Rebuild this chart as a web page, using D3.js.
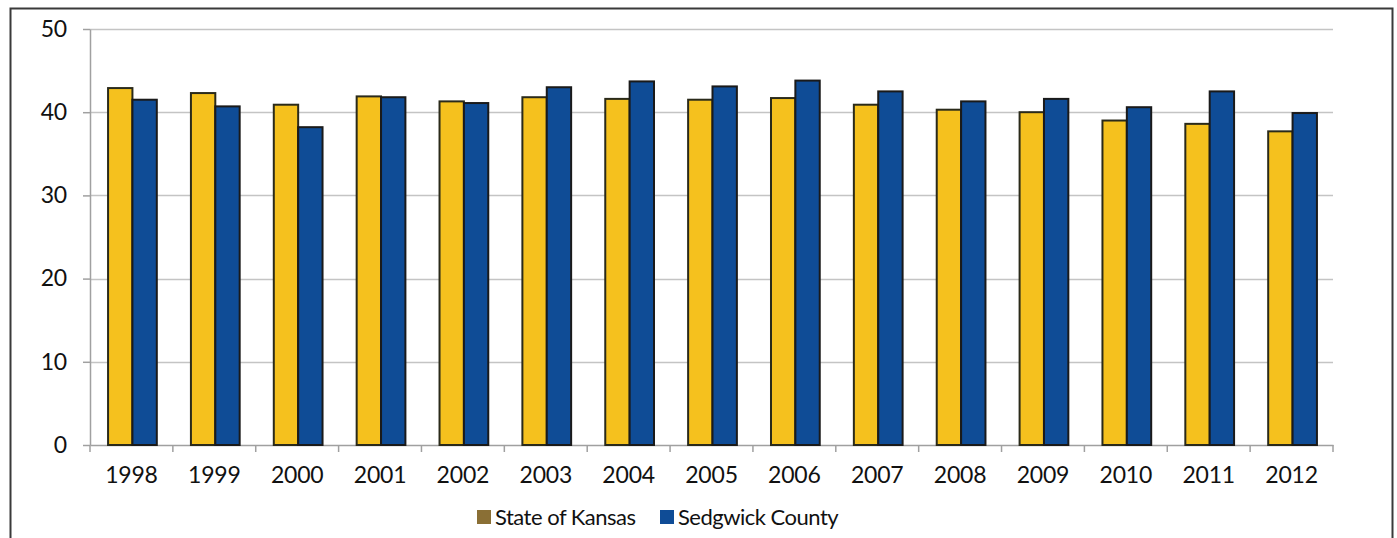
<!DOCTYPE html>
<html>
<head>
<meta charset="utf-8">
<script src="https://cdn.jsdelivr.net/npm/d3@7"></script>
<style>
  html, body { margin: 0; padding: 0; background: #fff; }
  svg { display: block; }
  text { font-family: Lato, "Open Sans", sans-serif; fill: #111; letter-spacing: -0.2px; }
  .legend text { letter-spacing: -0.5px; }
</style>
</head>
<body>
<svg id="chart" width="1397" height="538"></svg>
<script>
// Years along the x axis
const years = ["1998","1999","2000","2001","2002","2003","2004","2005","2006","2007","2008","2009","2010","2011","2012"];
// Series values per year
const kansas   = [42.9, 42.3, 40.9, 41.9, 41.3, 41.8, 41.6, 41.5, 41.7, 40.9, 40.3, 40.0, 39.0, 38.6, 37.7];
const sedgwick = [41.5, 40.7, 38.2, 41.8, 41.1, 43.0, 43.7, 43.1, 43.8, 42.5, 41.3, 41.6, 40.6, 42.5, 39.9];
const seriesNames = ["State of Kansas", "Sedgwick County"];
const yTicks = [0, 10, 20, 30, 40, 50];

const colors = { kansas: "#F5C11E", sedgwick: "#0F4C96" };
const fontSize = "23px";

const svg = d3.select("#chart");

// Outer frame
svg.append("rect")
  .attr("x", 10.5).attr("y", 8.5)
  .attr("width", 1382).attr("height", 535)
  .attr("fill", "none").attr("stroke", "#3a3a3a").attr("stroke-width", 2);

const plot = { left: 90, right: 1333, top: 29, bottom: 445 };

const x = d3.scaleBand().domain(years).range([plot.left, plot.right]).paddingInner(0).paddingOuter(0);
const y = d3.scaleLinear().domain([0, 50]).range([plot.bottom, plot.top]);

const barW = x.bandwidth() / 3.4;

// Horizontal gridlines
svg.append("g").selectAll("line").data(yTicks.filter(t => t > 0)).join("line")
  .attr("x1", plot.left).attr("x2", plot.right)
  .attr("y1", d => Math.round(y(d)) + 0.5).attr("y2", d => Math.round(y(d)) + 0.5)
  .attr("stroke", "#c4c4c4").attr("stroke-width", 1.5);

// Y axis
const yAxis = svg.append("g")
  .attr("transform", `translate(${plot.left},0)`)
  .call(d3.axisLeft(y).tickValues(yTicks).tickSize(7).tickPadding(16).tickSizeOuter(0));
yAxis.select(".domain").attr("stroke", "#a0a0a0").attr("stroke-width", 1.5);
yAxis.selectAll(".tick line").attr("stroke", "#a0a0a0").attr("stroke-width", 1.5);
yAxis.selectAll(".tick text").style("font-size", fontSize).attr("fill", "#111");

// X axis
const xAxis = svg.append("g")
  .attr("transform", `translate(0,${plot.bottom})`)
  .call(d3.axisBottom(x).tickSize(0).tickPadding(22));
xAxis.select(".domain").attr("stroke", "#a0a0a0").attr("stroke-width", 1.5);
xAxis.selectAll(".tick text").style("font-size", fontSize).attr("fill", "#111");
// Category boundary ticks
svg.append("g").selectAll("line")
  .data(years.map(d => x(d)).concat([plot.right])).join("line")
  .attr("x1", d => d).attr("x2", d => d)
  .attr("y1", plot.bottom).attr("y2", plot.bottom + 7)
  .attr("stroke", "#a0a0a0").attr("stroke-width", 1.5);

// Bars
const groups = svg.append("g").selectAll("g").data(years).join("g")
  .attr("transform", d => `translate(${x(d) + (x.bandwidth() - 2 * barW) / 2 + 1},0)`);

groups.append("rect")
  .attr("x", 0).attr("width", barW)
  .attr("y", (d, i) => y(kansas[i])).attr("height", (d, i) => y(0) - y(kansas[i]))
  .attr("fill", colors.kansas).attr("stroke", "#2a2a1a").attr("stroke-width", 2);

groups.append("rect")
  .attr("x", barW).attr("width", barW)
  .attr("y", (d, i) => y(sedgwick[i])).attr("height", (d, i) => y(0) - y(sedgwick[i]))
  .attr("fill", colors.sedgwick).attr("stroke", "#1a1a1a").attr("stroke-width", 2);

// Legend
const legend = svg.append("g").attr("class", "legend").attr("transform", "translate(477,517)");
legend.append("rect").attr("x", 0).attr("y", -7).attr("width", 14).attr("height", 14)
  .attr("fill", "#8a6f35");
legend.append("text").attr("x", 18).attr("y", 0).attr("dy", "0.35em")
  .style("font-size", "22px").text(seriesNames[0]);
legend.append("rect").attr("x", 183).attr("y", -7).attr("width", 14).attr("height", 14)
  .attr("fill", colors.sedgwick);
legend.append("text").attr("x", 201).attr("y", 0).attr("dy", "0.35em")
  .style("font-size", "22px").text(seriesNames[1]);
</script>
</body>
</html>
